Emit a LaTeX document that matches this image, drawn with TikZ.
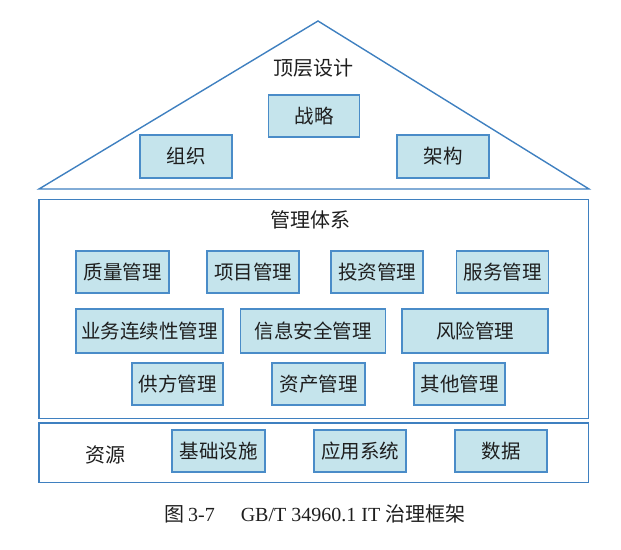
\documentclass[tikz,border=0pt]{standalone}
\usepackage{fontspec}
\setmainfont{Liberation Serif}
\newfontfamily\cjk{Noto Sans CJK SC}
\definecolor{boxfill}{HTML}{C5E4EC}
\definecolor{boxline}{HTML}{4A8CC8}
\definecolor{frameline}{HTML}{3F80C0}
\definecolor{txt}{HTML}{1E1E1E}
\begin{document}
\begin{tikzpicture}[x=1pt,y=-1pt,
  box/.style={draw=boxline, fill=boxfill, line width=1.2pt, inner sep=0pt,
    text=txt, font=\cjk\fontsize{19.5}{21}\selectfont},
  frame/.style={draw=frameline, line width=1.4pt},
  title/.style={text=txt, font=\cjk\fontsize{20}{22}\selectfont, inner sep=0pt}]
\useasboundingbox (0,0) rectangle (621,549);
% roof
\coordinate (L) at (39,189);
\coordinate (A) at (318,21);
\coordinate (R) at (589,189);
\draw[frame, line join=miter] (L) -- (A) -- (R) -- cycle;
\node[title] (t1) at (313,68) {顶层设计};
\node[box, minimum width=91, minimum height=42] (zl) at (314,116) {战略};
\node[box, minimum width=92, minimum height=43] (zz) at (186,156.5) {组织};
\node[box, minimum width=92, minimum height=43] (jg) at (443,156.5) {架构};
% management
\draw[frame] (39,199.5) rectangle (588.5,418.5);
\node[title] (t2) at (310,220) {管理体系};
\node[box, minimum width=93, minimum height=42] (b1) at (122.5,272) {质量管理};
\node[box, minimum width=92, minimum height=42] (b2) at (253,272) {项目管理};
\node[box, minimum width=92, minimum height=42] (b3) at (377,272) {投资管理};
\node[box, minimum width=92, minimum height=42] (b4) at (502.5,272) {服务管理};
\node[box, minimum width=147, minimum height=44] (b5) at (149.5,331) {业务连续性管理};
\node[box, minimum width=145, minimum height=44] (b6) at (313,331) {信息安全管理};
\node[box, minimum width=146, minimum height=44] (b7) at (475,331) {风险管理};
\node[box, minimum width=91, minimum height=42] (b8) at (177.5,384) {供方管理};
\node[box, minimum width=93, minimum height=42] (b9) at (318.5,384) {资产管理};
\node[box, minimum width=91, minimum height=42] (b10) at (459.5,384) {其他管理};
% resources
\draw[frame] (39,423) rectangle (588.5,482.5);
\node[title] (t3) at (105,455) {资源};
\node[box, minimum width=93, minimum height=42] (r1) at (218.5,451) {基础设施};
\node[box, minimum width=92, minimum height=42] (r2) at (360,451) {应用系统};
\node[box, minimum width=92, minimum height=42] (r3) at (501,451) {数据};
% caption
\node[text=txt, inner sep=0pt, font=\fontsize{20}{22}\selectfont] (cap) at (315,514)
  {{\cjk 图}\,3-7\hspace{1.3em}GB/T 34960.1 IT {\cjk 治理框架}};
\end{tikzpicture}
\end{document}
